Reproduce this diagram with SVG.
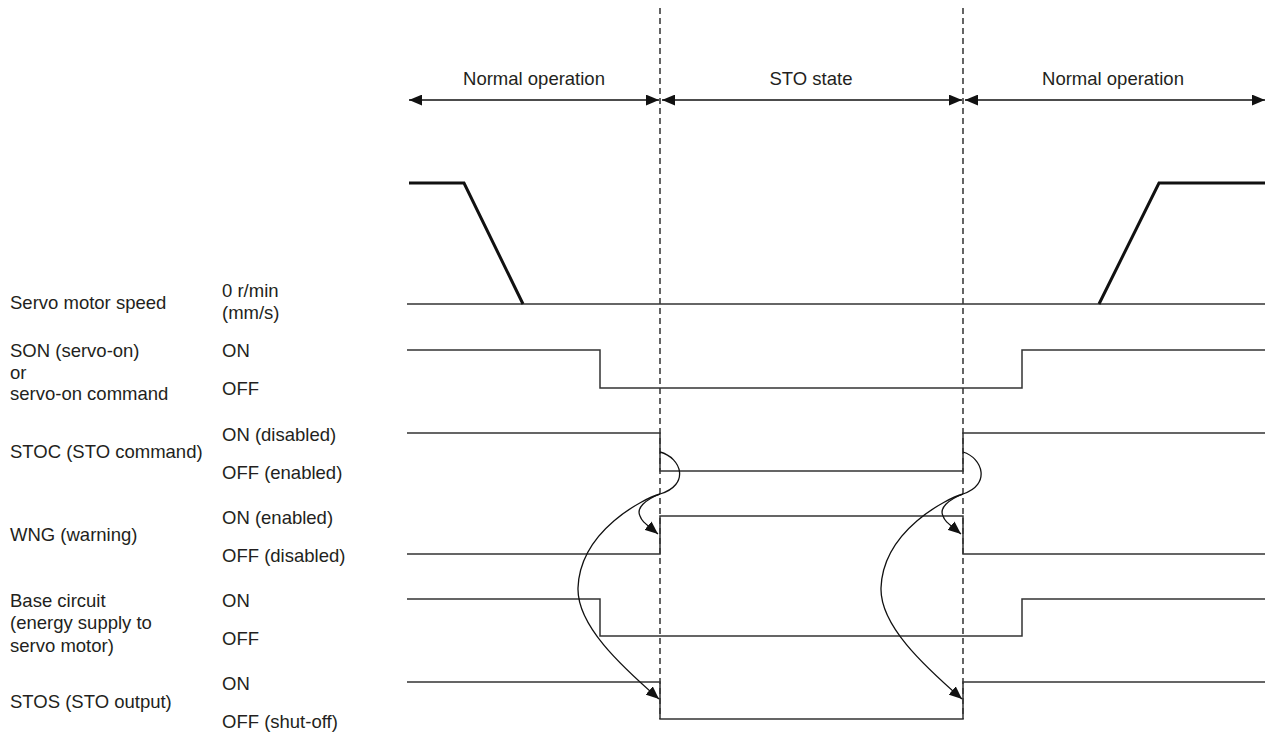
<svg xmlns="http://www.w3.org/2000/svg" width="1270" height="733" viewBox="0 0 1270 733">
<style>
text{font-family:"Liberation Sans",Arial,Helvetica,sans-serif;font-size:18.5px;fill:#231f20}
.sig{fill:none;stroke:#333;stroke-width:1.5}
.spd{fill:none;stroke:#111;stroke-width:3}
.dash{stroke:#111;stroke-width:1.3;stroke-dasharray:6 4}
.arr{fill:none;stroke:#111;stroke-width:1.3}
.cur{fill:none;stroke:#111;stroke-width:1.3}
</style>
<defs>
<marker id="ah" markerUnits="userSpaceOnUse" markerWidth="13" markerHeight="11" viewBox="0 0 12 10" refX="12" refY="5" orient="auto-start-reverse">
<path d="M0,0 L12,5 L0,10 z" fill="#111"/>
</marker>
</defs>
<rect width="1270" height="733" fill="#fff"/>
<g id="labels">
<text x="10" y="309">Servo motor speed</text>
<text x="222" y="297">0 r/min</text>
<text x="222" y="319">(mm/s)</text>
<text x="10" y="357">SON (servo-on)</text>
<text x="10" y="379">or</text>
<text x="10" y="400">servo-on command</text>
<text x="222" y="357">ON</text>
<text x="222" y="395">OFF</text>
<text x="10" y="458">STOC (STO command)</text>
<text x="222" y="441">ON (disabled)</text>
<text x="222" y="479">OFF (enabled)</text>
<text x="10" y="541">WNG (warning)</text>
<text x="222" y="524">ON (enabled)</text>
<text x="222" y="562">OFF (disabled)</text>
<text x="10" y="607">Base circuit</text>
<text x="10" y="629">(energy supply to</text>
<text x="10" y="652">servo motor)</text>
<text x="222" y="607">ON</text>
<text x="222" y="645">OFF</text>
<text x="10" y="708">STOS (STO output)</text>
<text x="222" y="690">ON</text>
<text x="222" y="728">OFF (shut-off)</text>
</g>
<g id="phases">
<text x="534" y="85" text-anchor="middle">Normal operation</text>
<text x="811" y="85" text-anchor="middle">STO state</text>
<text x="1113" y="85" text-anchor="middle">Normal operation</text>
<line class="arr" x1="409" y1="100" x2="659" y2="100" marker-start="url(#ah)" marker-end="url(#ah)"/>
<line class="arr" x1="662" y1="100" x2="962" y2="100" marker-start="url(#ah)" marker-end="url(#ah)"/>
<line class="arr" x1="965" y1="100" x2="1265" y2="100" marker-start="url(#ah)" marker-end="url(#ah)"/>
</g>
<g id="dashed">
<line class="dash" x1="660" y1="8" x2="660" y2="719"/>
<line class="dash" x1="963" y1="8" x2="963" y2="719"/>
</g>
<g id="speed">
<path class="sig" d="M407,304 H1265"/>
<path class="spd" d="M409,183 H464 L523,304"/>
<path class="spd" d="M1099,304 L1159,183 H1265"/>
</g>
<g id="son"><path class="sig" d="M407,350 H600 V388 H1022 V350 H1265"/></g>
<g id="stoc"><path class="sig" d="M407,433 H660 V471 H963 V433 H1265"/></g>
<g id="wng"><path class="sig" d="M407,554 H660 V516 H963 V554 H1265"/></g>
<g id="base"><path class="sig" d="M407,599 H600 V636 H1022 V599 H1265"/></g>
<g id="stos"><path class="sig" d="M407,682 H660 V719 H963 V682 H1265"/></g>
<g id="connectors">
<g id="c1">
<path class="cur" d="M660,452 C682,458 690,485 660,494 C645,498 580,530 578,588 C577,625 620,665 659,699" marker-end="url(#ah)"/>
<path class="cur" d="M660,494 C645,500 636,508 640,516 C642,522 646,524 658,534" marker-end="url(#ah)"/>
</g>
<g id="c2" transform="translate(303,0)">
<path class="cur" d="M660,452 C680,458 688,485 660,494 C645,498 580,530 578,588 C577,625 620,665 659,699" marker-end="url(#ah)"/>
<path class="cur" d="M660,494 C645,500 636,508 640,516 C642,522 646,524 658,534" marker-end="url(#ah)"/>
</g>
</g>
</svg>
